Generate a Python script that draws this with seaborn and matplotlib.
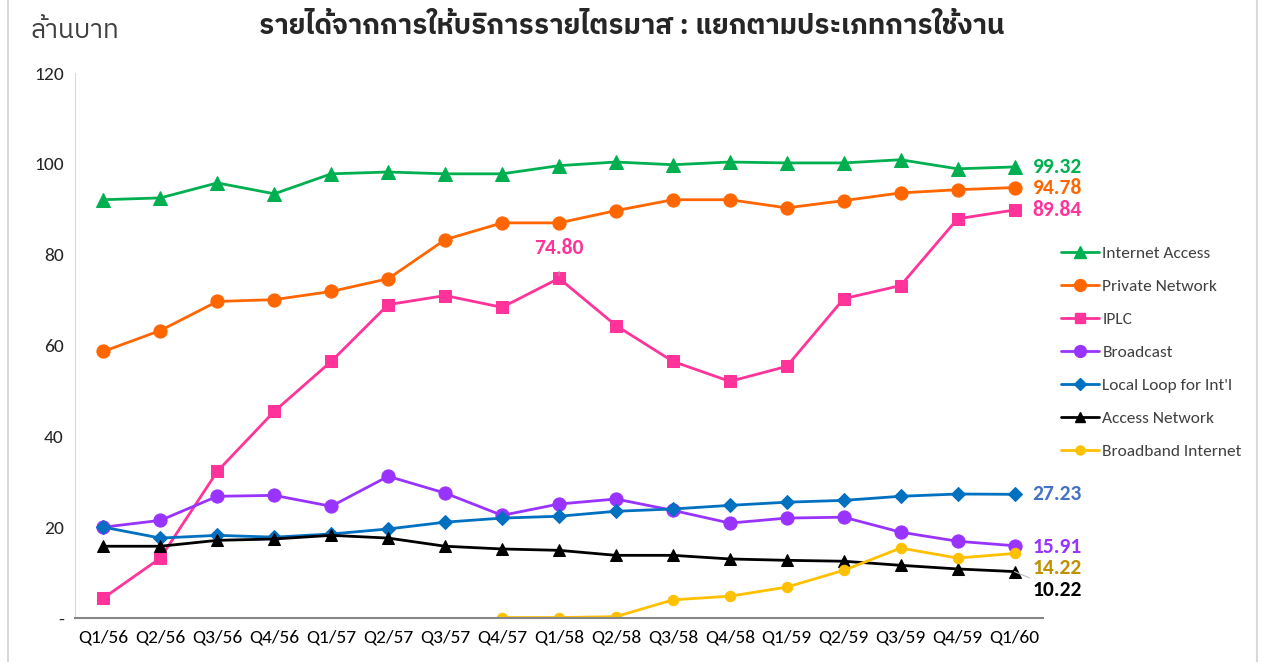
import matplotlib
matplotlib.use("Agg")
import numpy as np
import pandas as pd
import seaborn as sns
import matplotlib.pyplot as plt
from matplotlib.lines import Line2D

quarters = ["Q1/56", "Q2/56", "Q3/56", "Q4/56", "Q1/57", "Q2/57", "Q3/57", "Q4/57", "Q1/58",
            "Q2/58", "Q3/58", "Q4/58", "Q1/59", "Q2/59", "Q3/59", "Q4/59", "Q1/60"]

internet_access = [92.1, 92.5, 95.8, 93.4, 97.8, 98.2, 97.8, 97.8, 99.6, 100.4, 99.8, 100.4,
                   100.2, 100.2, 100.9, 98.9, 99.32]
private_network = [58.7, 63.3, 69.7, 70.1, 71.9, 74.7, 83.3, 87.0, 87.0, 89.7, 92.1, 92.1,
                   90.3, 91.9, 93.6, 94.3, 94.78]
iplc = [4.4, 13.2, 32.3, 45.5, 56.5, 69.0, 71.0, 68.4, 74.80, 64.4, 56.5, 52.1, 55.4, 70.3,
        73.2, 87.9, 89.84]
broadcast = [20.0, 21.5, 26.8, 27.0, 24.6, 31.2, 27.5, 22.6, 25.1, 26.2, 23.7, 20.9, 22.0,
             22.2, 18.9, 16.9, 15.91]
local_loop = [20.0, 17.6, 18.2, 17.8, 18.5, 19.6, 21.1, 22.0, 22.4, 23.5, 24.0, 24.8, 25.5,
              25.9, 26.8, 27.3, 27.23]
access_network = [15.8, 15.8, 17.1, 17.4, 18.2, 17.6, 15.8, 15.2, 14.9, 13.8, 13.8, 13.0,
                  12.7, 12.5, 11.6, 10.8, 10.22]
broadband = [None, None, None, None, None, None, None, 0.1, 0.1, 0.3, 4.0, 4.8, 6.8, 10.5,
             15.4, 13.2, 14.22]

series_names = ["Internet Access", "Private Network", "IPLC", "Broadcast",
                "Local Loop for Int'l", "Access Network", "Broadband Internet"]
series_values = [internet_access, private_network, iplc, broadcast, local_loop,
                 access_network, broadband]
colors = ["#00B050", "#FF6600", "#FF3399", "#9933FF", "#0070C0", "#000000", "#FFC000"]
label_colors = ["#00B050", "#FF6600", "#FF3399", "#9933FF", "#4472C4", "#000000", "#BF9000"]
markers = ["^", "o", "s", "o", "D", "^", "o"]
msizes = [9.5, 9.5, 8.5, 9.5, 7.5, 8.5, 7.5]

sns.set_style("white")
plt.rcParams['font.family'] = ['Carlito', 'Lato', 'DejaVu Sans']
thai = ['IBM Plex Sans Thai', 'DejaVu Sans']

fig = plt.figure(figsize=(12.62, 6.62), dpi=100)
ax = fig.add_axes([75 / 1262, 1 - 618 / 662, (1043 - 75) / 1262, (618 - 73) / 662])

rows = []
for name, vals in zip(series_names, series_values):
    for i, v in enumerate(vals):
        if v is not None:
            rows.append({"q": i, "series": name, "value": v})
df = pd.DataFrame(rows)

handles = []
for name, c, m, ms in zip(series_names, colors, markers, msizes):
    sub = df[df["series"] == name]
    sns.lineplot(data=sub, x="q", y="value", ax=ax, color=c, marker=m, markersize=ms,
                 markeredgecolor=c, linewidth=2.0, sort=False, legend=False)
    handles.append(Line2D([], [], color=c, marker=m, markersize=ms - 1, markeredgecolor=c,
                          linewidth=2.0, label=name))

ax.set_xlim(-0.5, 16.5)
ax.set_ylim(0, 120)
ax.set_xticks(range(len(quarters)))
ax.set_xticklabels(quarters, fontsize=14)
ax.set_xticks(np.arange(-0.5, 16.6, 1), minor=True)
ax.tick_params(axis="x", which="major", length=0, pad=8, colors="#000000")
ax.tick_params(axis="x", which="minor", length=5, width=1, color="#868686", direction="out")
ax.set_yticks(range(0, 121, 20))
ax.set_yticklabels(["-", "20", "40", "60", "80", "100", "120"], fontsize=14)
ax.tick_params(axis="y", length=0, pad=8)
ax.set_xlabel("")
ax.set_ylabel("")
for s in ["top", "right"]:
    ax.spines[s].set_visible(False)
ax.spines["left"].set_color("#D9D9D9")
ax.spines["bottom"].set_color("#868686")
ax.spines["bottom"].set_linewidth(1.5)

# end labels
end_offsets = [0, 0, 0, -1, 0, -18, -15]
for vals, c, dy in zip(series_values, label_colors, end_offsets):
    arrow = None
    if dy < -16:
        arrow = dict(arrowstyle="-", color="#BFBFBF", lw=0.8, shrinkA=0, shrinkB=0)
    ax.annotate(f"{vals[-1]:.2f}", xy=(16, vals[-1]), xytext=(18, dy), textcoords="offset pixels",
                ha="left", va="center", fontsize=15.5, fontweight="bold", color=c,
                arrowprops=arrow)

# peak label for IPLC
ax.annotate(f"{iplc[8]:.2f}", xy=(8, iplc[8]), xytext=(0, 30), textcoords="offset pixels",
            ha="center", va="center", fontsize=15.5, fontweight="bold", color="#FF3399",
            arrowprops=dict(arrowstyle="-", color="#A6A6A6", lw=0.8, shrinkA=7, shrinkB=2))

fig.legend(handles=handles, loc="upper left", bbox_to_anchor=(1045 / 1262, 1 - 230 / 662),
           frameon=False, fontsize=12.5, handlelength=2.2, handletextpad=0.2,
           labelspacing=1.03, labelcolor="#404040")

fig.text(632 / 1262, 1 - 26 / 662, "รายได้จากการให้บริการรายไตรมาส : แยกตามประเภทการใช้งาน",
         ha="center", va="center", fontsize=20, fontweight="bold", family=thai)
fig.text(30 / 1262, 1 - 31 / 662, "ล้านบาท", ha="left", va="center", fontsize=19,
         color="#404040", family=thai)

fig.add_artist(Line2D([8 / 1262, 8 / 1262], [0, 1], color="#D9D9D9", lw=1.5))
fig.add_artist(Line2D([1257 / 1262, 1257 / 1262], [0, 1], color="#D9D9D9", lw=1.5))

fig.savefig("out.png", dpi=100)
